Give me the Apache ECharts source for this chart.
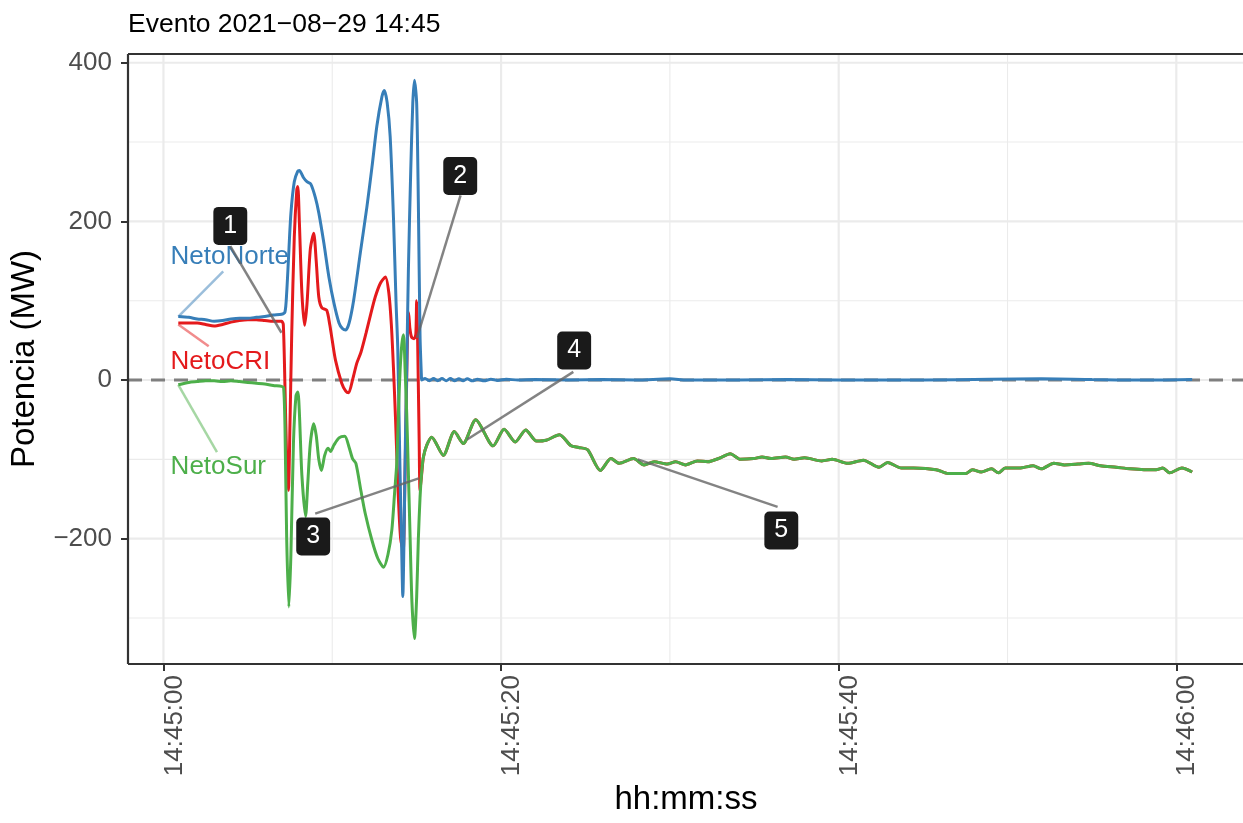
<!DOCTYPE html>
<html><head><meta charset="utf-8">
<script src="https://cdn.jsdelivr.net/npm/echarts@6/dist/echarts.min.js"></script>
<style>html,body{margin:0;padding:0;background:#fff}#c{width:1243px;height:823px}</style>
</head><body><div id="c"></div><script>
// ---------- data (time in seconds after 14:45:00, power in MW) ----------
const titleText = 'Evento 2021−08−29 14:45';
const xTickValues = [0, 20, 40, 60];
const xTickLabels = ['14:45:00', '14:45:20', '14:45:40', '14:46:00'];
const xMinorGrid = [10, 30, 50];
const yTickValues = [-200, 0, 200, 400];
const yTickLabels = ['−200', '0', '200', '400'];
const yMinorGrid = [-300, -100, 100, 300];
const seriesNames = ['NetoCRI', 'NetoNorte', 'NetoSur'];

const netoNorte = [
  [0.88,80],[1.5,79],[2.0,77],[2.5,76],[3.0,74],[3.5,75],[4.0,77],[4.5,78],[5.0,78],[5.5,79],[6.0,80],[6.5,82],[7.0,83],[7.2,86],
  [7.3,110],[7.4,150],[7.55,210],[7.75,250],[7.95,263],[8.05,264],[8.3,255],[8.5,250],[8.73,247],[9.0,230],[9.2,211],[9.5,173],
  [9.8,130],[10.1,97],[10.4,72],[10.6,65],[10.8,63],[11.0,72],[11.27,101],[11.66,160],[12.05,218],[12.35,268],[12.64,320],
  [12.94,357],[13.08,365],[13.25,350],[13.43,307],[13.63,202],[13.78,97],[13.88,40],[14.0,-100],[14.1,-200],[14.18,-273],
  [14.25,-200],[14.33,-80],[14.41,13],[14.51,139],[14.65,265],[14.77,349],[14.87,378],[15.0,349],[15.1,223],[15.2,55],[15.28,5],
  [15.3,0],[15.5,2],[15.75,-1],[16.0,2],[16.25,-1],[16.5,2],[16.75,-1],[17.0,2],[17.25,-1],[17.5,1.5],[17.75,-1],[18.0,1.5],
  [18.3,-1],[18.6,1],[19.0,-1],[19.4,1],[19.8,-0.5],[20.3,1],[21,0],[22,0.5],[24,0],[26,0.5],[28,0],[30,1.5],[31,0],[34,0],
  [37,0.5],[40,0],[45,0],[49,1],[52,1.5],[55,0.5],[58,0],[60.94,0.5]
];

const netoCRI = [
  [0.88,72],[1.5,72],[2.0,72],[2.5,70],[3.0,68],[3.5,70],[4.0,73],[4.5,75],[5.0,76],[5.5,76],[6.0,75],[6.5,74],[7.0,74],[7.1,70],
  [7.2,-10],[7.3,-100],[7.4,-139],[7.5,-50],[7.6,60],[7.75,180],[7.9,240],[7.96,244],[8.05,200],[8.2,110],[8.36,69],[8.5,95],
  [8.7,165],[8.9,185],[9.05,150],[9.2,105],[9.38,91],[9.67,88],[9.85,70],[9.97,54],[10.19,25],[10.56,-4],[10.8,-14],[10.97,-16],
  [11.2,0],[11.45,21],[11.7,35],[12.0,59],[12.3,85],[12.55,105],[12.85,122],[13.15,130],[13.35,110],[13.5,70],[13.63,13],
  [13.75,-50],[13.9,-140],[14.05,-200],[14.2,-215],[14.3,-130],[14.4,-10],[14.47,70],[14.52,85],[14.6,65],[14.7,54],[14.85,52],
  [14.95,58],[15.0,100],[15.05,60],[15.15,-80],[15.2,-139],[15.3,-118],[15.4,-97],[15.6,-82],[15.89,-72],
  [16.58,-95],[17.23,-65],[17.76,-80],[18.5,-50],[19.53,-83],[20.18,-62],[20.84,-78],[21.46,-63],[22.1,-77],[22.67,-76],
  [23.46,-69],[24.15,-83],[24.6,-85],[25.13,-88],[25.88,-114],[26.51,-99],[27.0,-105],[27.85,-99],[28.47,-107],[29.07,-103],
  [29.85,-106],[30.34,-103],[30.93,-107],[31.62,-102],[32.24,-103],[33.0,-98],[33.57,-93],[34.18,-100],[34.97,-99],[35.46,-97],
  [36.0,-99],[36.85,-97],[37.36,-100],[37.98,-98],[39.0,-102],[39.62,-100],[40.54,-105],[41.46,-101],[42.39,-110],[42.9,-104],
  [43.72,-111],[44.44,-111],[45.77,-113],[46.49,-118],[47.52,-118],[47.92,-113],[48.44,-116],[49.05,-112],[49.46,-117],
  [49.87,-111],[50.7,-111],[51.52,-108],[52.0,-112],[52.74,-105],[53.36,-107],[54.18,-106],[54.8,-105],[55.51,-108],
  [56.44,-110],[57.26,-112],[58.08,-113],[58.8,-113],[59.2,-111],[59.6,-117],[60.33,-111],[60.94,-116]
];

const netoSur = [
  [0.88,-6],[1.5,-3],[2.0,-2],[2.5,-1],[3.0,-1],[3.5,-2],[4.0,-1],[4.5,-2],[5.0,-3],[5.5,-4],[6.0,-5],[6.5,-7],[7.0,-8],[7.12,-10],
  [7.2,-60],[7.3,-200],[7.43,-286],[7.55,-220],[7.7,-80],[7.85,-20],[7.96,-15],[8.05,-40],[8.2,-120],[8.42,-172],[8.55,-130],
  [8.7,-80],[8.9,-55],[9.05,-70],[9.2,-100],[9.36,-114],[9.55,-95],[9.75,-86],[9.9,-90],[10.1,-82],[10.4,-73],[10.74,-71],
  [11.0,-85],[11.2,-99],[11.4,-105],[11.7,-140],[11.95,-168],[12.35,-202],[12.7,-225],[13.04,-236],[13.3,-220],[13.53,-189],
  [13.7,-140],[13.82,-105],[13.92,-40],[14.02,13],[14.12,45],[14.22,57],[14.32,10],[14.41,-42],[14.5,-110],[14.6,-189],
  [14.72,-280],[14.87,-326],[15.0,-273],[15.1,-200],[15.2,-148],[15.3,-115],[15.4,-97],[15.6,-82],[15.89,-72],
  [16.58,-95],[17.23,-65],[17.76,-80],[18.5,-50],[19.53,-83],[20.18,-62],[20.84,-78],[21.46,-63],[22.1,-77],[22.67,-76],
  [23.46,-69],[24.15,-83],[24.6,-85],[25.13,-88],[25.88,-114],[26.51,-99],[27.0,-105],[27.85,-99],[28.47,-107],[29.07,-103],
  [29.85,-106],[30.34,-103],[30.93,-107],[31.62,-102],[32.24,-103],[33.0,-98],[33.57,-93],[34.18,-100],[34.97,-99],[35.46,-97],
  [36.0,-99],[36.85,-97],[37.36,-100],[37.98,-98],[39.0,-102],[39.62,-100],[40.54,-105],[41.46,-101],[42.39,-110],[42.9,-104],
  [43.72,-111],[44.44,-111],[45.77,-113],[46.49,-118],[47.52,-118],[47.92,-113],[48.44,-116],[49.05,-112],[49.46,-117],
  [49.87,-111],[50.7,-111],[51.52,-108],[52.0,-112],[52.74,-105],[53.36,-107],[54.18,-106],[54.8,-105],[55.51,-108],
  [56.44,-110],[57.26,-112],[58.08,-113],[58.8,-113],[59.2,-111],[59.6,-117],[60.33,-111],[60.94,-116]
];

// series name labels (repelled text) : label anchor and leader line, in data units
const nameLabelAt    = [[3.37, 23.2], [3.93, 155], [3.25, -109.3]];
const nameLeaderFrom = [[0.88, 70], [0.88, 80], [0.88, -6]];
const nameLeaderTo   = [[2.68, 42.7], [3.54, 137], [3.17, -90.9]];

// numbered event annotations, in data units
const eventLabels   = ['1', '2', '3', '4', '5'];
const eventBoxAt    = [[3.96, 194.3], [17.58, 257.3], [8.87, -197.2], [24.33, 37.3], [36.6, -189.6]];
const eventSegFrom  = [[3.96, 168.8], [17.6, 232.7], [8.99, -168.5], [24.28, 10.2], [36.38, -160]];
const eventSegTo    = [[6.99, 59.6], [15.02, 53.3], [15.12, -124], [17.99, -74.9], [28.1, -100.1]];

// ---------- chart ----------
const X_MIN = -2.1, X_MAX = 63.95, Y_MIN = -358, Y_MAX = 411;
const colors = { NetoCRI: '#E41A1C', NetoNorte: '#377EB8', NetoSur: '#4DAF4A' };
const leaderColors = { NetoCRI: 'rgba(228,26,28,0.5)', NetoNorte: 'rgba(55,126,184,0.5)', NetoSur: 'rgba(77,175,74,0.5)' };
const seriesData = { NetoCRI: netoCRI, NetoNorte: netoNorte, NetoSur: netoSur };
const FONT = '"Liberation Sans", Arial, Helvetica, sans-serif';

const chart = echarts.init(document.getElementById('c'), null, { renderer: 'canvas' });

const series = [];
const segment = (a, b, style, z) => ({
  type: 'line', data: [a, b], symbol: 'none', showSymbol: false, silent: true, z: z, animation: false,
  clip: true, lineStyle: style
});
// grid lines
xMinorGrid.forEach(v => series.push(segment([v, Y_MIN], [v, Y_MAX], { color: '#EBEBEB', width: 1.1 }, 0)));
yMinorGrid.forEach(v => series.push(segment([X_MIN, v], [X_MAX, v], { color: '#EBEBEB', width: 1.1 }, 0)));
xTickValues.forEach(v => series.push(segment([v, Y_MIN], [v, Y_MAX], { color: '#EBEBEB', width: 2.2 }, 0)));
yTickValues.forEach(v => series.push(segment([X_MIN, v], [X_MAX, v], { color: '#EBEBEB', width: 2.2 }, 0)));
// dashed zero line
series.push(segment([X_MIN, 0], [X_MAX, 0], { color: '#7F7F7F', width: 3, type: [14, 9] }, 1));
// panel border (left, top, bottom)
series.push(segment([X_MIN, Y_MIN], [X_MIN, Y_MAX], { color: '#333333', width: 2.2 }, 9));
series.push(segment([X_MIN, Y_MAX], [X_MAX, Y_MAX], { color: '#333333', width: 2.2 }, 9));
series.push(segment([X_MIN, Y_MIN], [X_MAX, Y_MIN], { color: '#333333', width: 2.2 }, 9));
// main series
seriesNames.forEach(n => {
  series.push({
    name: n, type: 'line', data: seriesData[n], showSymbol: false, symbol: 'none',
    smooth: 0.25, z: 2, animation: false,
    lineStyle: { color: colors[n], width: 3 }
  });
});
// series-name leader lines and labels
seriesNames.forEach((n, i) => {
  series.push(segment(nameLeaderFrom[i], nameLeaderTo[i], { color: leaderColors[n], width: 2.5 }, 3));
  series.push({
    type: 'scatter', data: [{ value: nameLabelAt[i], name: n }], symbolSize: 2, silent: true, z: 4, animation: false,
    itemStyle: { color: 'rgba(0,0,0,0)', opacity: 1 },
    label: { show: true, position: 'inside', formatter: '{b}', color: colors[n], fontSize: 26, fontFamily: FONT, opacity: 1 }
  });
});
// event segments and boxes
eventLabels.forEach((lab, i) => {
  series.push(segment(eventSegFrom[i], eventSegTo[i], { color: 'rgba(100,100,100,0.8)', width: 2.5 }, 5));
  series.push({
    type: 'scatter', data: [{ value: eventBoxAt[i], name: lab }], symbolSize: 2, silent: true, z: 6, animation: false,
    itemStyle: { color: 'rgba(0,0,0,0)', opacity: 1 },
    label: { show: true, position: 'inside', formatter: '{b}', color: '#FFFFFF', fontSize: 25, fontFamily: FONT, opacity: 1,
      backgroundColor: '#1A1A1A', borderRadius: 5, padding: [7, 10, 6, 10] }
  });
});

chart.setOption({
  animation: false,
  backgroundColor: '#FFFFFF',
  grid: { left: 128, top: 54, width: 1118, height: 610, show: false, containLabel: false },
  xAxis: {
    type: 'value', min: X_MIN, max: X_MAX,
    axisLine: { show: false, onZero: false },
    splitLine: { show: false },
    axisTick: { show: true, customValues: xTickValues, length: 7, lineStyle: { color: '#333333', width: 2 } },
    axisLabel: { show: true, customValues: xTickValues, rotate: 90, margin: 11, color: '#4D4D4D', fontSize: 26, fontFamily: FONT,
      verticalAlign: 'top', lineHeight: 22,
      formatter: v => { const k = xTickValues.indexOf(v); return k >= 0 ? xTickLabels[k] : ''; } }
  },
  yAxis: {
    type: 'value', min: Y_MIN, max: Y_MAX,
    axisLine: { show: false, onZero: false },
    splitLine: { show: false },
    axisTick: { show: true, customValues: yTickValues, length: 7, lineStyle: { color: '#333333', width: 2 } },
    axisLabel: { show: true, customValues: yTickValues, margin: 16, color: '#4D4D4D', fontSize: 26, fontFamily: FONT,
      formatter: v => { const k = yTickValues.indexOf(v); return k >= 0 ? yTickLabels[k] : ''; } }
  },
  graphic: [
    { type: 'text', left: 128, top: 11, style: { text: titleText, fill: '#000', font: '26.5px ' + FONT } },
    { type: 'text', x: 686, y: 800, style: { text: 'hh:mm:ss', fill: '#000', font: '33px ' + FONT, textAlign: 'center', textVerticalAlign: 'middle' } },
    { type: 'text', x: 25, y: 359, rotation: Math.PI / 2, style: { text: 'Potencia (MW)', fill: '#000', font: '33px ' + FONT, textAlign: 'center', textVerticalAlign: 'middle' } }
  ],
  series: series
});
</script></body></html>
